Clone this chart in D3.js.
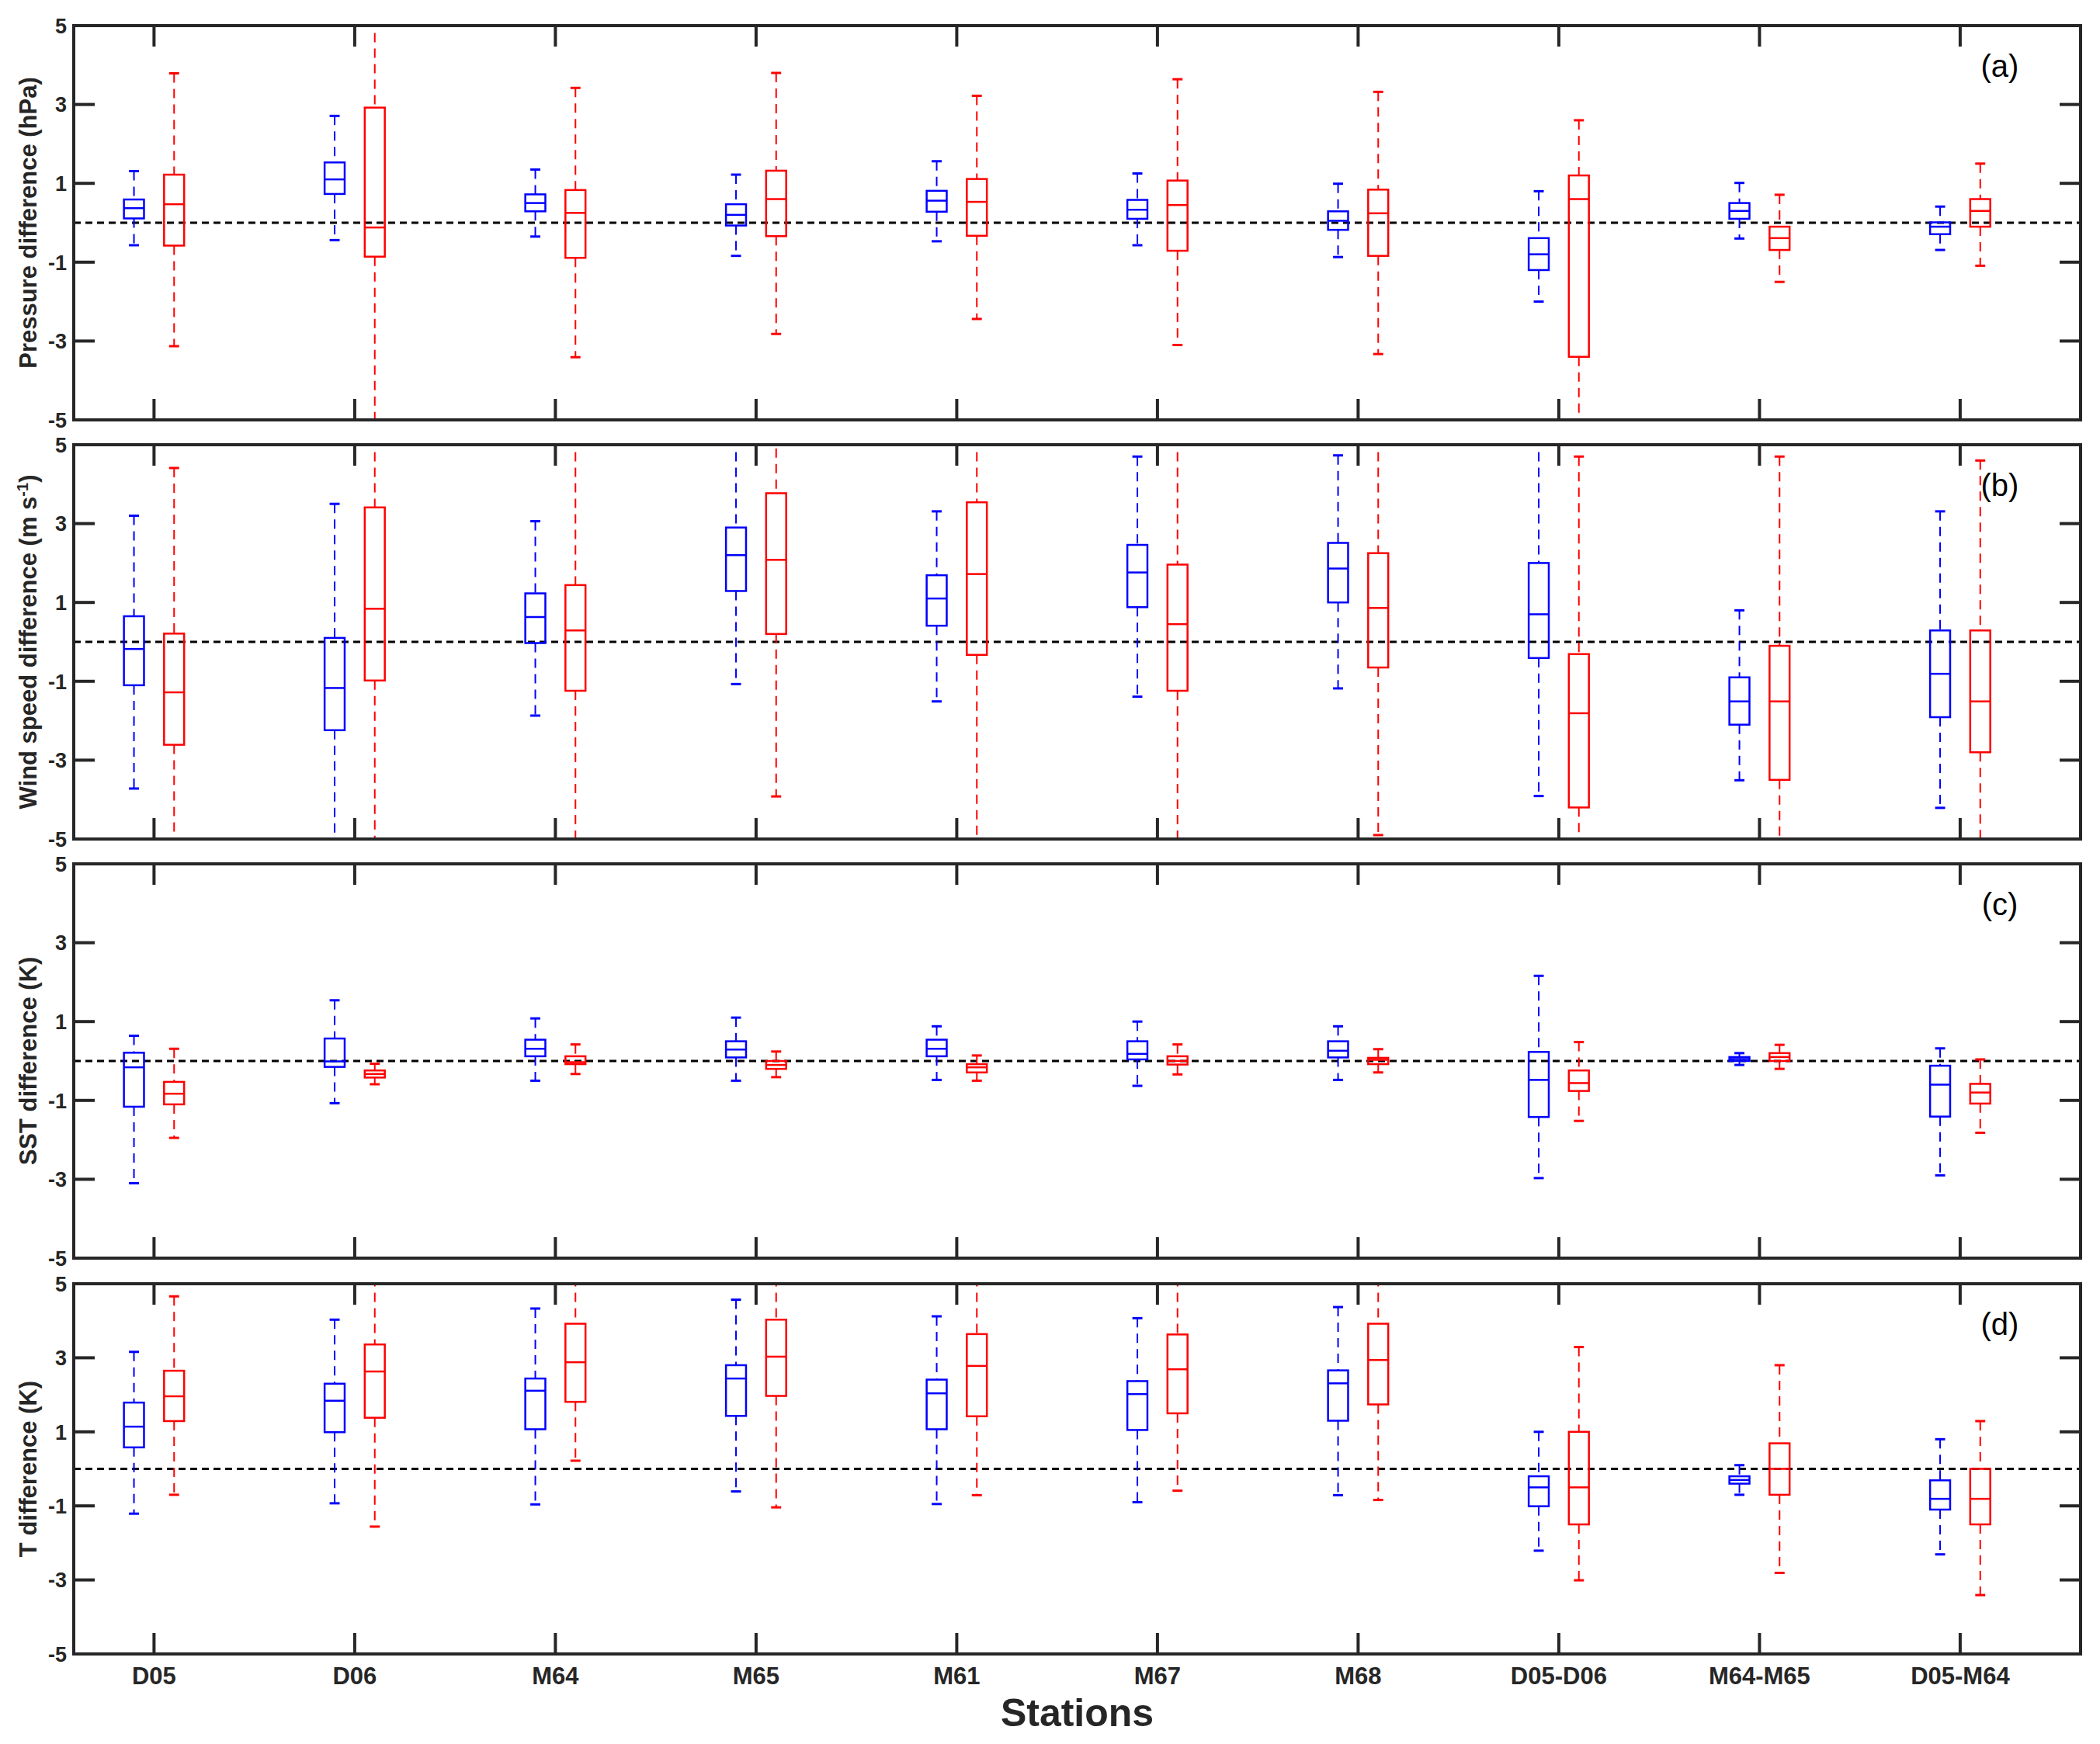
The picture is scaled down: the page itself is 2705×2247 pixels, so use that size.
<!DOCTYPE html>
<html>
<head>
<meta charset="utf-8">
<script src="https://cdn.jsdelivr.net/npm/d3@7"></script>
<style>
    body { margin: 0; background: #fff; }
    svg { display: block; }
</style>
</head>
<body>
<div id="chart"></div>
<script>
var stations = ['D05', 'D06', 'M64', 'M65', 'M61', 'M67', 'M68', 'D05-D06', 'M64-M65', 'D05-M64'];
var yTicks = [-5, -3, -1, 1, 3, 5];

// each entry: [lower whisker, q1, median, q3, upper whisker]
var pressureBlue = [
    [-0.57, 0.11, 0.37, 0.59, 1.31], [-0.44, 0.73, 1.10, 1.53, 2.71], [-0.35, 0.29, 0.50, 0.72, 1.35],
    [-0.84, -0.07, 0.20, 0.47, 1.22], [-0.47, 0.28, 0.56, 0.81, 1.56], [-0.57, 0.10, 0.33, 0.58, 1.25],
    [-0.87, -0.18, 0.05, 0.29, 0.99], [-2.00, -1.20, -0.80, -0.39, 0.80], [-0.40, 0.10, 0.30, 0.50, 1.01],
    [-0.69, -0.29, -0.10, 0.01, 0.41]
];
var pressureRed = [
    [-3.13, -0.58, 0.47, 1.22, 3.79], [-5.6, -0.86, -0.12, 2.92, 5.6], [-3.41, -0.89, 0.25, 0.83, 3.42],
    [-2.82, -0.34, 0.60, 1.32, 3.80], [-2.44, -0.33, 0.53, 1.11, 3.22], [-3.10, -0.71, 0.45, 1.07, 3.64],
    [-3.33, -0.84, 0.24, 0.84, 3.32], [-5.6, -3.40, 0.60, 1.20, 2.60], [-1.50, -0.69, -0.39, -0.10, 0.71],
    [-1.09, -0.10, 0.30, 0.60, 1.50]
];
var windBlue = [
    [-3.72, -1.10, -0.18, 0.65, 3.20], [-5.6, -2.24, -1.17, 0.10, 3.50], [-1.87, -0.03, 0.63, 1.23, 3.06],
    [-1.07, 1.29, 2.20, 2.90, 5.6], [-1.51, 0.41, 1.10, 1.69, 3.31], [-1.39, 0.88, 1.76, 2.46, 4.70],
    [-1.18, 1.00, 1.86, 2.51, 4.73], [-3.91, -0.41, 0.70, 2.00, 5.6], [-3.51, -2.10, -1.51, -0.90, 0.80],
    [-4.21, -1.91, -0.81, 0.29, 3.31]
];
var windRed = [
    [-5.6, -2.61, -1.28, 0.21, 4.41], [-5.6, -0.98, 0.84, 3.41, 5.6], [-5.6, -1.24, 0.29, 1.44, 5.6],
    [-3.92, 0.20, 2.08, 3.77, 5.3], [-5.6, -0.33, 1.72, 3.54, 5.6], [-5.6, -1.24, 0.45, 1.96, 5.6],
    [-4.90, -0.65, 0.86, 2.25, 5.6], [-5.6, -4.20, -1.81, -0.31, 4.70], [-5.6, -3.50, -1.51, -0.10, 4.70],
    [-5.6, -2.80, -1.51, 0.29, 4.60]
];
var sstBlue = [
    [-3.10, -1.16, -0.16, 0.21, 0.64], [-1.07, -0.15, -0.01, 0.57, 1.54], [-0.50, 0.12, 0.31, 0.54, 1.08],
    [-0.50, 0.09, 0.29, 0.50, 1.10], [-0.48, 0.12, 0.31, 0.54, 0.88], [-0.63, 0.04, 0.18, 0.50, 1.00],
    [-0.48, 0.09, 0.26, 0.50, 0.88], [-2.97, -1.42, -0.48, 0.23, 2.16], [-0.10, 0.00, 0.05, 0.10, 0.20],
    [-2.90, -1.41, -0.60, -0.12, 0.32]
];
var sstRed = [
    [-1.95, -1.10, -0.83, -0.53, 0.31], [-0.59, -0.42, -0.33, -0.24, -0.07], [-0.33, -0.08, -0.03, 0.12, 0.42],
    [-0.41, -0.20, -0.10, 0.00, 0.24], [-0.50, -0.29, -0.16, -0.08, 0.14], [-0.34, -0.09, 0.00, 0.12, 0.42],
    [-0.29, -0.08, 0.03, 0.08, 0.30], [-1.52, -0.76, -0.56, -0.24, 0.48], [-0.20, 0.00, 0.10, 0.20, 0.41],
    [-1.82, -1.08, -0.80, -0.58, 0.04]
];
var tempBlue = [
    [-1.21, 0.58, 1.14, 1.79, 3.16], [-0.93, 0.99, 1.84, 2.30, 4.03], [-0.96, 1.07, 2.11, 2.44, 4.33],
    [-0.61, 1.43, 2.44, 2.80, 4.57], [-0.95, 1.07, 2.04, 2.41, 4.12], [-0.90, 1.05, 2.02, 2.37, 4.07],
    [-0.71, 1.30, 2.31, 2.66, 4.37], [-2.21, -1.01, -0.50, -0.20, 1.00], [-0.70, -0.40, -0.30, -0.20, 0.10],
    [-2.31, -1.10, -0.81, -0.31, 0.80]
];
var tempRed = [
    [-0.70, 1.29, 1.96, 2.65, 4.66], [-1.56, 1.38, 2.63, 3.36, 5.6], [0.22, 1.81, 2.88, 3.92, 5.6],
    [-1.04, 1.97, 3.03, 4.03, 5.6], [-0.71, 1.42, 2.78, 3.64, 5.6], [-0.59, 1.50, 2.69, 3.63, 5.6],
    [-0.84, 1.74, 2.94, 3.92, 5.6], [-3.01, -1.50, -0.50, 1.00, 3.29], [-2.81, -0.70, 0.00, 0.69, 2.80],
    [-3.41, -1.50, -0.81, 0.00, 1.29]
];

var panels = [
    { tag: '(a)', label: ['Pressure difference (hPa)'], blue: pressureBlue, red: pressureRed },
    { tag: '(b)', label: ['Wind speed difference (m s', '-1', ')'], blue: windBlue, red: windRed },
    { tag: '(c)', label: ['SST difference (K)'], blue: sstBlue, red: sstRed },
    { tag: '(d)', label: ['T difference (K)'], blue: tempBlue, red: tempRed }
];

var width = 2705, height = 2247;
var axisColor = '#262626';
var left = 95, right = 2680;
var tops = [33, 573, 1113, 1654],
    heights = [508, 508, 508, 477];
var tickLen = 27;
var boxW = 0.1, offset = 0.1;

var svg = d3.select('#chart').append('svg')
    .attr('width', width)
    .attr('height', height)
    .style('font-family', 'Liberation Sans, Arial, sans-serif');

var x = d3.scaleLinear()
    .domain([0.6, 10.6])
    .range([left, right]);

panels.forEach(function(p, pi) {
    var top = tops[pi], h = heights[pi];
    var y = d3.scaleLinear()
        .domain([-5, 5])
        .range([top + h, top]);

    var g = svg.append('g');

    g.append('clipPath')
        .attr('id', 'clip' + pi)
        .append('rect')
        .attr('x', left)
        .attr('y', top)
        .attr('width', right - left)
        .attr('height', h);

    var plot = g.append('g').attr('clip-path', `url(#clip${pi})`);

    // zero reference line
    plot.append('line')
        .attr('x1', left)
        .attr('x2', right)
        .attr('y1', y(0))
        .attr('y2', y(0))
        .attr('stroke', '#000')
        .attr('stroke-width', 3)
        .attr('stroke-dasharray', '9,6');

    [[p.blue, '#0000ff', -offset], [p.red, '#ff0000', offset]].forEach(function(s) {
        var data = s[0], color = s[1], dx = s[2];
        var grp = plot.append('g')
            .selectAll('g')
            .data(data)
            .join('g');

        var cx = function(d, i) { return x(i + 1 + dx); };
        var half = (x(1 + boxW) - x(1)) / 2;

        // whiskers
        grp.append('line')
            .attr('x1', cx).attr('x2', cx)
            .attr('y1', d => y(d[4])).attr('y2', d => y(d[3]))
            .attr('stroke', color).attr('stroke-width', 2)
            .attr('stroke-dasharray', '12,8');
        grp.append('line')
            .attr('x1', cx).attr('x2', cx)
            .attr('y1', d => y(d[1])).attr('y2', d => y(d[0]))
            .attr('stroke', color).attr('stroke-width', 2)
            .attr('stroke-dasharray', '12,8');

        // caps
        [0, 4].forEach(function(k) {
            grp.append('line')
                .attr('x1', (d, i) => cx(d, i) - half / 2)
                .attr('x2', (d, i) => cx(d, i) + half / 2)
                .attr('y1', d => y(d[k])).attr('y2', d => y(d[k]))
                .attr('stroke', color).attr('stroke-width', 3);
        });

        // box
        grp.append('rect')
            .attr('x', (d, i) => cx(d, i) - half)
            .attr('width', half * 2)
            .attr('y', d => y(d[3]))
            .attr('height', d => y(d[1]) - y(d[3]))
            .attr('fill', 'none')
            .attr('stroke', color)
            .attr('stroke-width', 2.5);

        // median
        grp.append('line')
            .attr('x1', (d, i) => cx(d, i) - half)
            .attr('x2', (d, i) => cx(d, i) + half)
            .attr('y1', d => y(d[2])).attr('y2', d => y(d[2]))
            .attr('stroke', color).attr('stroke-width', 2.5);
    });

    // ticks
    var ticks = g.append('g').attr('stroke', axisColor).attr('stroke-width', 4);
    stations.forEach(function(s, i) {
        ticks.append('line')
            .attr('x1', x(i + 1)).attr('x2', x(i + 1))
            .attr('y1', top + h).attr('y2', top + h - tickLen);
        ticks.append('line')
            .attr('x1', x(i + 1)).attr('x2', x(i + 1))
            .attr('y1', top).attr('y2', top + tickLen);
    });
    yTicks.forEach(function(t) {
        ticks.append('line')
            .attr('x1', left).attr('x2', left + tickLen)
            .attr('y1', y(t)).attr('y2', y(t));
        ticks.append('line')
            .attr('x1', right).attr('x2', right - tickLen)
            .attr('y1', y(t)).attr('y2', y(t));
    });

    // frame
    g.append('rect')
        .attr('x', left).attr('y', top)
        .attr('width', right - left).attr('height', h)
        .attr('fill', 'none')
        .attr('stroke', axisColor)
        .attr('stroke-width', 4);

    // y tick labels
    g.append('g')
        .selectAll('text')
        .data(yTicks)
        .join('text')
        .attr('x', left - 9)
        .attr('y', d => y(d))
        .attr('dy', '0.36em')
        .attr('text-anchor', 'end')
        .attr('font-size', '27px')
        .attr('font-weight', 'bold')
        .attr('fill', axisColor)
        .text(d => d);

    // y title
    var title = g.append('text')
        .attr('transform', `translate(47, ${top + h / 2}) rotate(-90)`)
        .attr('text-anchor', 'middle')
        .attr('font-size', '31px')
        .attr('font-weight', 'bold')
        .attr('fill', axisColor);
    title.append('tspan').text(p.label[0]);
    if (p.label.length > 1) {
        title.append('tspan')
            .attr('font-size', '20px')
            .attr('baseline-shift', 'super')
            .text(p.label[1]);
        title.append('tspan').text(p.label[2]);
    }

    // panel tag
    g.append('text')
        .attr('x', 2576)
        .attr('y', top + 66)
        .attr('text-anchor', 'middle')
        .attr('font-size', '40px')
        .attr('fill', '#000')
        .text(p.tag);

    // station labels under the last panel
    if (pi === panels.length - 1) {
        g.append('g')
            .selectAll('text')
            .data(stations)
            .join('text')
            .attr('x', (d, i) => x(i + 1))
            .attr('y', top + h + 39)
            .attr('text-anchor', 'middle')
            .attr('font-size', '31px')
            .attr('font-weight', 'bold')
            .attr('fill', axisColor)
            .text(d => d);
    }
});

svg.append('text')
    .attr('x', (left + right) / 2)
    .attr('y', 2224)
    .attr('text-anchor', 'middle')
    .attr('font-size', '50px')
    .attr('font-weight', 'bold')
    .attr('fill', axisColor)
    .text('Stations');
</script>
</body>
</html>
